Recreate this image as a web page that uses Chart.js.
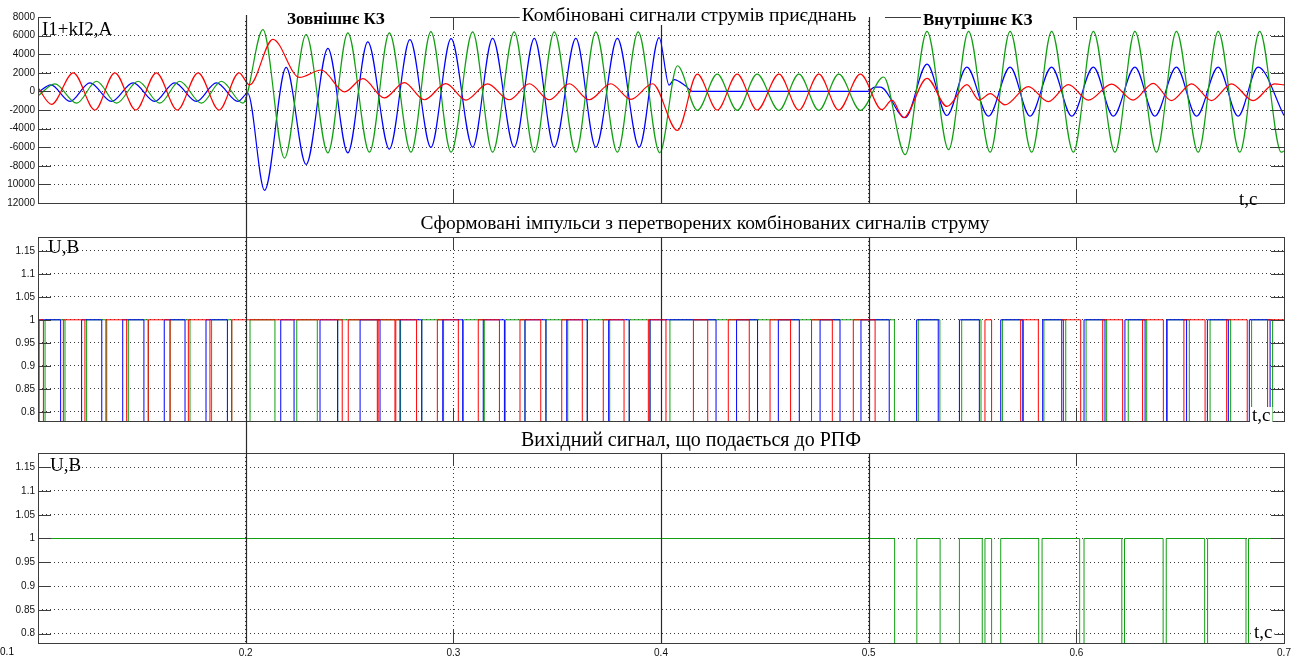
<!DOCTYPE html>
<html>
<head>
<meta charset="utf-8">
<script src="https://cdn.jsdelivr.net/npm/chart.js@4.4.1/dist/chart.umd.min.js"></script>
<style>
  html, body { margin: 0; padding: 0; background: #fff; }
  #wrap { position: relative; width: 1302px; height: 657px; overflow: hidden; background: #fff; }
  canvas { position: absolute; left: 0; }
</style>
</head>
<body>
<div id="wrap">
  <canvas id="chart-currents" width="1302" height="212" style="top:0"></canvas>
  <canvas id="chart-pulses" width="1302" height="218" style="top:212px"></canvas>
  <canvas id="chart-output" width="1302" height="227" style="top:430px"></canvas>
</div>
<script>
// axes
const timeTicks = [0.1, 0.2, 0.3, 0.4, 0.5, 0.6, 0.7];
const timeTickLabels = ['', '0.2', '0.3', '0.4', '0.5', '0.6', '0.7'];
const currentTicks = [8000, 6000, 4000, 2000, 0, -2000, -4000, -6000, -8000, -10000, -12000];
const currentTickLabels = ['8000', '6000', '4000', '2000', '0', '-2000', '-4000', '-6000', '-8000', '10000', '12000'];
const voltTicks = [1.15, 1.1, 1.05, 1, 0.95, 0.9, 0.85, 0.8];
const voltTickLabels = ['1.15', '1.1', '1.05', '1', '0.95', '0.9', '0.85', '0.8'];
const eventTimes = [0.2, 0.4, 0.5];

// combined currents I1+kI2 (peaks)
const redTime = [0.1000, 0.1065, 0.1170, 0.1274, 0.1370, 0.1471, 0.1570, 0.1671, 0.1771, 0.1872, 0.1968, 0.2019, 0.2131, 0.2259, 0.2364, 0.2476, 0.2564, 0.2668, 0.2764, 0.2860, 0.2964, 0.3061, 0.3165, 0.3269, 0.3366, 0.3462, 0.3558, 0.3654, 0.3758, 0.3855, 0.3959, 0.4079, 0.4175, 0.4271, 0.4367, 0.4463, 0.4568, 0.4664, 0.4760, 0.4856, 0.4960, 0.5064, 0.5112, 0.5168, 0.5281, 0.5377, 0.5473, 0.5532, 0.5585, 0.5657, 0.5769, 0.5865, 0.5962, 0.6058, 0.6170, 0.6274, 0.6370, 0.6458, 0.6555, 0.6651, 0.6747, 0.6851, 0.6955, 0.7000];
const redCurrent = [400, -1400, 2000, -2000, 2000, -2000, 2000, -2000, 2000, -2000, 2000, 700, 5600, 1500, 2300, -50, 1370, -700, 950, -900, 830, -930, 810, -900, 820, -900, 820, -900, 820, -850, 820, -4200, 1850, -2000, 1850, -2000, 1850, -2000, 1850, -2000, 1850, -1970, -930, -2830, 1410, -1620, 720, -930, -240, -1450, 520, -1100, 720, -930, 790, -930, 860, -990, 810, -990, 810, -990, 810, 700];

const greenTime = [0.1001, 0.1081, 0.1186, 0.1282, 0.1378, 0.1482, 0.1586, 0.1682, 0.1787, 0.1883, 0.1987, 0.2083, 0.2187, 0.2291, 0.2396, 0.2492, 0.2596, 0.2692, 0.2796, 0.2892, 0.2989, 0.3093, 0.3189, 0.3293, 0.3390, 0.3486, 0.3590, 0.3686, 0.3790, 0.3890, 0.3994, 0.4079, 0.4175, 0.4271, 0.4367, 0.4463, 0.4568, 0.4664, 0.4760, 0.4856, 0.4960, 0.5072, 0.5176, 0.5281, 0.5385, 0.5481, 0.5585, 0.5681, 0.5785, 0.5881, 0.5986, 0.6082, 0.6186, 0.6282, 0.6386, 0.6482, 0.6587, 0.6683, 0.6787, 0.6883, 0.6987, 0.7000];
const greenCurrent = [-470, 800, -1270, 1090, -1270, 1090, -1270, 1090, -1270, 1090, -1270, 6640, -7170, 6120, -6610, 6290, -6540, 6290, -6540, 6430, -6540, 6400, -6540, 6400, -6540, 6400, -6540, 6400, -6540, 6400, -6600, 2760, -2030, 1850, -2030, 1850, -2030, 1850, -2030, 1850, -2030, 1550, -6800, 6460, -6270, 6460, -6540, 6460, -6540, 6460, -6540, 6460, -6540, 6460, -6540, 6460, -6540, 6460, -6540, 6460, -6540, -6400];

const blueTime = [0.1001, 0.1062, 0.1154, 0.1250, 0.1354, 0.1458, 0.1562, 0.1658, 0.1763, 0.1859, 0.1963, 0.2010, 0.2091, 0.2195, 0.2291, 0.2396, 0.2492, 0.2588, 0.2692, 0.2791, 0.2892, 0.2989, 0.3093, 0.3189, 0.3293, 0.3390, 0.3486, 0.3590, 0.3686, 0.3790, 0.3895, 0.3991, 0.4039, 0.4063, 0.4119, 0.4151, 0.4995, 0.5030, 0.5056, 0.5176, 0.5281, 0.5377, 0.5473, 0.5577, 0.5681, 0.5777, 0.5881, 0.5978, 0.6082, 0.6178, 0.6282, 0.6378, 0.6482, 0.6579, 0.6683, 0.6779, 0.6875, 0.7000];
const blueCurrent = [-100, 700, -1070, 920, -1070, 920, -1070, 920, -1070, 920, -1070, -200, -10640, 2580, -7860, 4630, -6610, 5320, -6200, 5560, -6020, 5670, -6000, 5700, -6000, 5700, -6000, 5700, -6000, 5700, -6000, 5780, 670, 1260, 570, 0, 0, 450, 450, -2830, 2930, -2590, 2620, -2660, 2620, -2660, 2620, -2660, 2620, -2660, 2620, -2660, 2620, -2660, 2620, -2660, 2620, -2600];

// pulse trains: switching instants, level toggles 1 <-> 0 at each one
const redStart = 1;
const redEdges = [0.1026, 0.1122, 0.1226, 0.1327, 0.1427, 0.1531, 0.1636, 0.1724, 0.1828, 0.1933, 0.2465, 0.2494, 0.2634, 0.2638, 0.2719, 0.2723, 0.2823, 0.2923, 0.3024, 0.3120, 0.3222, 0.3321, 0.3421, 0.3522, 0.3621, 0.3722, 0.3822, 0.3939, 0.4024, 0.4156, 0.4225, 0.4324, 0.4425, 0.4525, 0.4624, 0.4725, 0.4825, 0.4926, 0.5031, 0.5560, 0.5592, 0.5732, 0.5817, 0.5929, 0.6021, 0.6127, 0.6223, 0.6319, 0.6419, 0.6518, 0.6620, 0.6724, 0.6823, 0.6921];
const blueStart = 0;
const blueEdges = [0.1005, 0.1109, 0.1210, 0.1307, 0.1408, 0.1510, 0.1608, 0.1708, 0.1809, 0.1912, 0.2169, 0.2233, 0.2358, 0.2443, 0.2551, 0.2647, 0.2743, 0.2848, 0.2949, 0.3045, 0.3144, 0.3246, 0.3345, 0.3446, 0.3546, 0.3645, 0.3748, 0.3847, 0.3947, 0.4265, 0.4364, 0.4465, 0.4565, 0.4666, 0.4766, 0.4862, 0.4963, 0.5099, 0.5231, 0.5335, 0.5437, 0.5533, 0.5636, 0.5742, 0.5838, 0.5937, 0.6037, 0.6138, 0.6234, 0.6331, 0.6435, 0.6531, 0.6631, 0.6732, 0.6833, 0.6933];
const greenStart = 0;
const greenEdges = [0.1034, 0.1130, 0.1234, 0.1331, 0.1435, 0.1531, 0.1636, 0.1732, 0.1836, 0.1933, 0.2021, 0.2141, 0.2246, 0.2345, 0.2443, 0.2746, 0.2848, 0.2953, 0.3048, 0.3149, 0.3250, 0.3345, 0.3446, 0.3551, 0.3645, 0.3753, 0.3847, 0.3947, 0.4043, 0.5124, 0.5239, 0.5343, 0.5448, 0.5541, 0.5644, 0.5745, 0.5844, 0.5949, 0.6047, 0.6146, 0.6250, 0.6339, 0.6438, 0.6544, 0.6644, 0.6743, 0.6844, 0.6945];

// output signal to the relay
const outputStart = 1;
const outputEdges = [0.5125, 0.5232, 0.5344, 0.5437, 0.5547, 0.5560, 0.5592, 0.5636, 0.5819, 0.5835, 0.6016, 0.6037, 0.6219, 0.6232, 0.6418, 0.6433, 0.6618, 0.6632, 0.6817, 0.6829];

const RED = '#ff0000';
const GREEN = '#12a012';
const BLUE = '#0000ff';
const tickFont = { family: '"Liberation Sans", Arial, sans-serif', size: 10 };
const serif = '"Liberation Serif", "Times New Roman", serif';

function zip(ts, vs) {
    return ts.map((t, i) => ({ x: t, y: vs[i] }));
}

function steps(edges, start) {
    const pts = [{ x: 0.1, y: start }];
    let level = start;
    edges.forEach(t => {
        level = 1 - level;
        pts.push({ x: t, y: level });
    });
    pts.push({ x: 0.7, y: level });
    return pts;
}

function wave(data, color) {
    return { data, borderColor: color, borderWidth: 1.2, pointRadius: 0, fill: false, cubicInterpolationMode: 'monotone' };
}

function pulse(data, color) {
    return { data, borderColor: color, borderWidth: 1, pointRadius: 0, fill: false, stepped: true, tension: 0 };
}

// frame, inward ticks, event lines and labels drawn like the original figure
function decor(cfg) {
    return {
        id: 'decor',
        afterDatasetsDraw(chart) {
            const { ctx, chartArea: a, scales: { x, y } } = chart;
            ctx.save();
            ctx.strokeStyle = '#3c3c3c';
            ctx.lineWidth = 1;
            ctx.strokeRect(a.left + 0.5, a.top + 0.5, a.right - a.left, a.bottom - a.top);

            ctx.fillStyle = '#fff';
            (cfg.gaps || []).forEach(([x0, x1]) => ctx.fillRect(x0, a.top - 1, x1 - x0, 3));

            ctx.beginPath();
            y.ticks.forEach(t => {
                const p = Math.round(y.getPixelForValue(t.value)) + 0.5;
                ctx.moveTo(a.left, p); ctx.lineTo(a.left + 13, p);
                ctx.moveTo(a.right, p); ctx.lineTo(a.right - 13, p);
            });
            x.ticks.forEach(t => {
                const p = Math.round(x.getPixelForValue(t.value)) + 0.5;
                ctx.moveTo(p, a.bottom); ctx.lineTo(p, a.bottom - 13);
                ctx.moveTo(p, a.top); ctx.lineTo(p, a.top + 13);
            });
            ctx.stroke();

            ctx.strokeStyle = '#2a2a2a';
            ctx.lineWidth = 1.2;
            eventTimes.forEach((t, i) => {
                const p = Math.round(x.getPixelForValue(t)) + 0.5;
                ctx.beginPath();
                if (i === 0) {
                    ctx.moveTo(p, cfg.longTop);
                    ctx.lineTo(p, cfg.longBottom === undefined ? chart.height : cfg.longBottom);
                } else {
                    ctx.moveTo(p, a.top);
                    ctx.lineTo(p, a.bottom);
                }
                ctx.stroke();
            });

            ctx.textBaseline = 'middle';
            (cfg.texts || []).forEach(tx => {
                ctx.font = tx.font;
                ctx.textAlign = tx.align || 'left';
                if (tx.bg) {
                    const w = ctx.measureText(tx.text).width;
                    const x0 = tx.align === 'center' ? tx.x - w / 2 : tx.x;
                    ctx.fillStyle = '#fff';
                    ctx.fillRect(x0 - 2, tx.y - 9, w + 4, 18);
                }
                ctx.fillStyle = '#000';
                ctx.fillText(tx.text, tx.x, tx.y);
            });
            ctx.restore();
        }
    };
}

function panel(canvasId, cfg) {
    return new Chart(document.getElementById(canvasId), {
        type: 'line',
        data: { datasets: cfg.datasets },
        options: {
            responsive: false,
            animation: false,
            devicePixelRatio: 1,
            layout: { padding: { left: 0, right: 18, top: cfg.top, bottom: 0 } },
            plugins: { legend: { display: false }, tooltip: { enabled: false }, title: { display: false } },
            scales: {
                x: {
                    type: 'linear', min: 0.1, max: 0.7,
                    afterBuildTicks: s => { s.ticks = timeTicks.map(v => ({ value: v })); },
                    afterFit: s => { s.height = cfg.xHeight; },
                    ticks: {
                        display: !!cfg.xLabels, autoSkip: false, maxRotation: 0, padding: 4,
                        font: tickFont, color: '#111',
                        callback: (v, i) => timeTickLabels[i]
                    },
                    grid: { drawTicks: false, color: '#3a3a3a', lineWidth: 1 },
                    border: { display: false, dash: [1, 3] }
                },
                y: {
                    type: 'linear', min: cfg.yMin, max: cfg.yMax,
                    afterBuildTicks: s => { s.ticks = cfg.yTicks.map(v => ({ value: v })); },
                    afterFit: s => { s.width = 38; },
                    ticks: {
                        autoSkip: false, padding: 3, font: tickFont, color: '#111',
                        callback: (v, i) => cfg.yLabels[i]
                    },
                    grid: { drawTicks: false, color: '#3a3a3a', lineWidth: 1 },
                    border: { display: false, dash: [1, 3] }
                }
            }
        },
        plugins: [decor(cfg)]
    });
}

panel('chart-currents', {
    top: 17, xHeight: 3, yMin: -12000, yMax: 8000,
    yTicks: currentTicks, yLabels: currentTickLabels,
    longTop: 15,
    gaps: [[39, 430], [520, 885], [922, 1073]],
    datasets: [
        wave(zip(redTime, redCurrent), RED),
        wave(zip(greenTime, greenCurrent), GREEN),
        wave(zip(blueTime, blueCurrent), BLUE)
    ],
    texts: [
        { text: 'Комбіновані сигнали струмів приєднань', x: 689, y: 16, font: '19.5px ' + serif, align: 'center', bg: true },
        { text: 'Зовнішнє КЗ', x: 287, y: 20, font: 'bold 17px ' + serif, bg: true },
        { text: 'Внутрішнє КЗ', x: 923, y: 21, font: 'bold 17px ' + serif, bg: true },
        { text: 'I1+kI2,A', x: 42, y: 30, font: '19px ' + serif },
        { text: 't,c', x: 1239, y: 200, font: '19px ' + serif }
    ]
});

panel('chart-pulses', {
    top: 25, xHeight: 3, yMin: 0.78, yMax: 1.18,
    yTicks: voltTicks, yLabels: voltTickLabels,
    longTop: 0,
    datasets: [
        pulse(steps(redEdges, redStart), RED),
        pulse(steps(blueEdges, blueStart), BLUE),
        pulse(steps(greenEdges, greenStart), GREEN)
    ],
    texts: [
        { text: 'Сформовані імпульси з перетворених комбінованих сигналів струму', x: 705, y: 12, font: '19.5px ' + serif, align: 'center' },
        { text: 'U,B', x: 48, y: 36, font: '19px ' + serif },
        { text: 't,c', x: 1252, y: 204, font: '19px ' + serif, bg: true }
    ]
});

panel('chart-output', {
    top: 23, xHeight: 14, yMin: 0.78, yMax: 1.18, xLabels: true,
    yTicks: voltTicks, yLabels: voltTickLabels,
    longTop: 0, longBottom: 213,
    datasets: [
        pulse(steps(outputEdges, outputStart), GREEN)
    ],
    texts: [
        { text: 'Вихідний сигнал, що подається до РПФ', x: 691, y: 11, font: '20px ' + serif, align: 'center' },
        { text: 'U,B', x: 50, y: 36, font: '19px ' + serif },
        { text: 't,c', x: 1254, y: 203, font: '19px ' + serif, bg: true },
        { text: '0.1', x: 7, y: 222, font: '10px "Liberation Sans", Arial, sans-serif', align: 'center' }
    ]
});
</script>
</body>
</html>
